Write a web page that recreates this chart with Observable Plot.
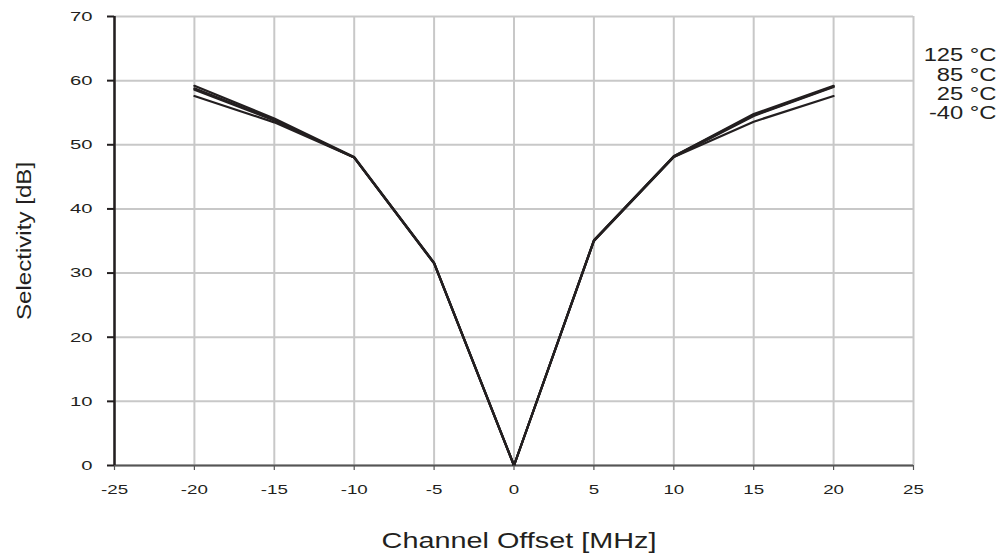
<!DOCTYPE html>
<html><head><meta charset="utf-8">
<script src="https://cdn.jsdelivr.net/npm/d3@7"></script>
<script src="https://cdn.jsdelivr.net/npm/@observablehq/plot@0.6"></script>
<style>
body{margin:0;background:#fff;}
#chart svg{display:block;}
</style></head><body><div id="chart"></div>
<script>
// Channel offsets (MHz)
const offsets = [-20, -15, -10, -5, 0, 5, 10, 15, 20];
// Selectivity (dB) per temperature
const sel125 = [59.2, 54.1, 48.1, 31.6, 0, 35.1, 48.2, 54.8, 59.2];
const sel85  = [58.8, 53.9, 48.0, 31.6, 0, 35.1, 48.2, 54.6, 59.1];
const sel25  = [58.6, 53.8, 48.0, 31.5, 0, 35.0, 48.1, 54.5, 59.0];
const selM40 = [57.6, 53.5, 48.0, 31.5, 0, 35.0, 48.1, 53.6, 57.6];
const seriesNames = ["125 °C", "85 °C", "25 °C", "-40 °C"];
const xTicks = [-25, -20, -15, -10, -5, 0, 5, 10, 15, 20, 25];
const yTicks = [0, 10, 20, 30, 40, 50, 60, 70];
const xTitle = "Channel Offset [MHz]";
const yTitle = "Selectivity [dB]";

const seriesValues = [sel125, sel85, sel25, selM40];
const rows = seriesNames.flatMap((name, k) =>
  offsets.map((x, i) => ({series: name, x, y: seriesValues[k][i]})));

const font = "'Liberation Sans', Arial, Helvetica, sans-serif";
const ink = "#231f20";
const fmt = d => String(d);

const chart = Plot.plot({
  width: 1007, height: 555,
  marginLeft: 114, marginRight: 94, marginTop: 16, marginBottom: 90,
  style: {fontFamily: font, color: ink, background: "#fff", overflow: "visible"},
  x: {domain: [-25, 25], label: null},
  y: {domain: [0, 70], label: null},
  marks: [
    Plot.gridX(xTicks, {stroke: "#c8c8c8", strokeOpacity: 1, strokeWidth: 2}),
    Plot.gridY(yTicks, {stroke: "#c8c8c8", strokeOpacity: 1, strokeWidth: 2}),
    Plot.ruleY([0], {stroke: "#555", strokeWidth: 2}),
    Plot.ruleX([-25], {stroke: ink, strokeWidth: 2.5}),
    Plot.line(rows, {x: "x", y: "y", z: "series", stroke: ink, strokeWidth: 2.2, strokeLinejoin: "miter"}),
    Plot.axisX(xTicks, {tickSize: 5, tickPadding: 15, fontSize: 12.5, label: null, stroke: "#555", strokeWidth: 1.2, tickFormat: fmt}),
    Plot.axisY(yTicks, {tickSize: 7, tickPadding: 15, fontSize: 13.5, label: null, stroke: ink, strokeWidth: 2, tickFormat: fmt}),
    Plot.text([xTitle], {frameAnchor: "bottom", lineAnchor: "bottom", dy: 82.7, dx: 5, fontSize: 22, fill: ink}),
    Plot.text([yTitle], {frameAnchor: "left", textAnchor: "middle", lineAnchor: "bottom", rotate: -90, dx: -83.5, fontSize: 21, fill: ink}),
    Plot.text([seriesNames.join("\n")], {frameAnchor: "top-right", textAnchor: "end", lineAnchor: "top", dx: 83, dy: 31.3, fontSize: 18, lineHeight: 1.07, fill: ink})
  ]
});

// Widen glyphs horizontally (reference typeface is wider than the available fonts)
const legendText = seriesNames.join("");
chart.querySelectorAll("text").forEach(el => {
  const s = el.textContent;
  let f = 1.5;
  if (s === xTitle) f = 1.31;
  else if (s === yTitle) f = 1.15;
  else if (s === legendText) f = 1.32;
  let t = el.getAttribute("transform");
  if (!t) {
    const x = +el.getAttribute("x") || 0, y = +el.getAttribute("y") || 0;
    el.removeAttribute("x"); el.removeAttribute("y");
    t = `translate(${x},${y})`;
  }
  el.setAttribute("transform", `${t} scale(${f},1)`);
});
document.getElementById("chart").appendChild(chart);
</script>
</body></html>
